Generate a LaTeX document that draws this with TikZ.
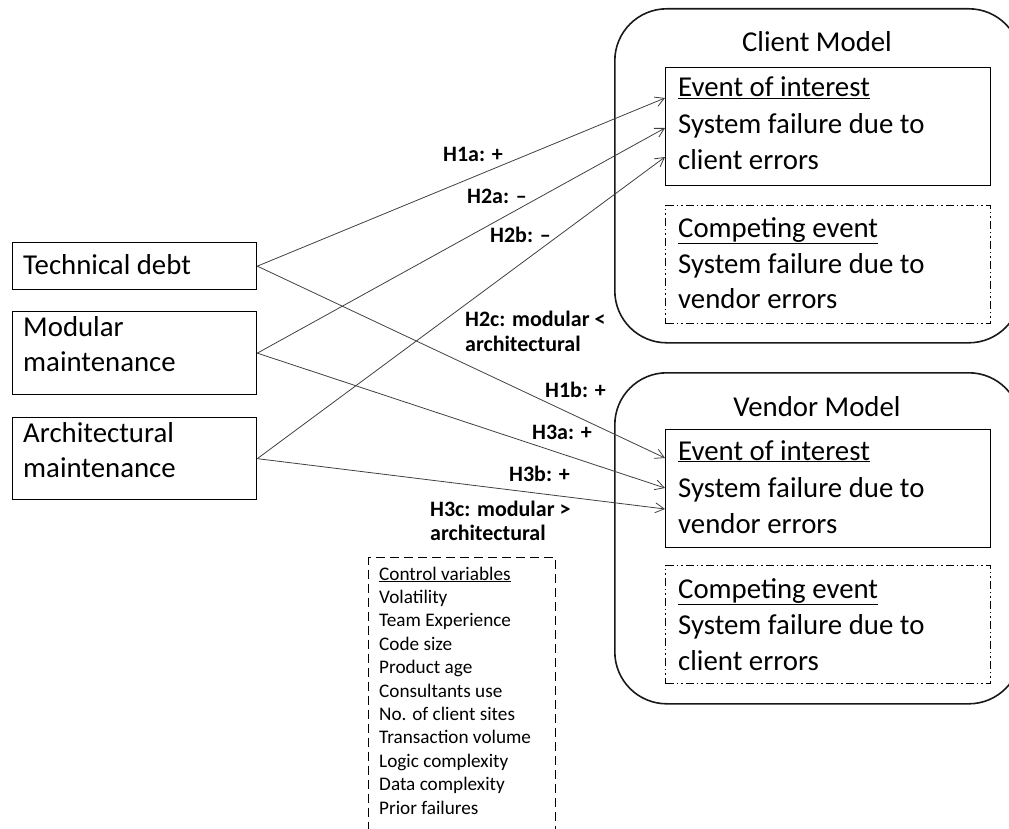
\documentclass[tikz,border=0pt]{standalone}
\usepackage{fontspec}
\setmainfont{Carlito}
\usetikzlibrary{arrows.meta,calc}
\begin{document}
\begin{tikzpicture}[x=1pt,y=-1pt,
  model/.style={draw=black!90, line width=1.6pt, rounded corners=52pt, inner sep=0, anchor=north west},
  box/.style={draw=black, line width=1.3pt, inner sep=0, anchor=north west},
  compbox/.style={box, line width=1.1pt, dash pattern=on 8pt off 3pt on 1.5pt off 3pt on 1.5pt off 3pt},
  ctrlbox/.style={box, line width=1.1pt, dash pattern=on 9pt off 5pt},
  big/.style={font=\fontsize{28.8}{34}\selectfont, inner sep=0, anchor=base west},
  title/.style={font=\fontsize{28.8}{34}\selectfont, inner sep=0, anchor=base},
  hyp/.style={font=\fontsize{22}{25}\selectfont\bfseries, inner sep=0, anchor=base west},
  small/.style={font=\fontsize{19.2}{23}\selectfont, inner sep=0, anchor=base west},
  arr/.style={draw=black!75, line width=0.8pt, -{Straight Barb[length=9pt,width=10pt]}}
]
\useasboundingbox (0,0) rectangle (1009,829);
\clip (0,0) rectangle (1009,829);

% models
\node[model, minimum width=406pt, minimum height=334pt] (cm) at (614,8) {};
\node[model, minimum width=406pt, minimum height=331pt] (vm) at (614,372) {};
\node[title] (cmt) at (817,52) {Client Model};
\node[title] (vmt) at (817,416) {Vendor Model};

% event boxes
\node[box, minimum width=325pt, minimum height=118pt] (cei) at (665,67) {};
\node[big] (cei1) at (678,97) {\underline{Event of interest}};
\node[big] (cei2) at (678,134) {System failure due to};
\node[big] (cei3) at (678,170) {client errors};

\node[compbox, minimum width=325pt, minimum height=118pt] (cce) at (665,205) {};
\node[big] (cce1) at (678,237) {\underline{Competing event}};
\node[big] (cce2) at (678,273) {System failure due to};
\node[big] (cce3) at (678,308) {vendor errors};

\node[box, minimum width=325pt, minimum height=118pt] (vei) at (665,429) {};
\node[big] (vei1) at (678,460) {\underline{Event of interest}};
\node[big] (vei2) at (678,497) {System failure due to};
\node[big] (vei3) at (678,533) {vendor errors};

\node[compbox, minimum width=325pt, minimum height=118pt] (vce) at (665,565) {};
\node[big] (vce1) at (678,598) {\underline{Competing event}};
\node[big] (vce2) at (678,634) {System failure due to};
\node[big] (vce3) at (678,670) {client errors};

% left boxes
\node[box, minimum width=244pt, minimum height=47pt] (td) at (12,242) {};
\node[big] (td1) at (23,274) {Technical debt};
\node[box, minimum width=244pt, minimum height=83pt] (mm) at (12,311) {};
\node[big] (mm1) at (23,336) {Modular};
\node[big] (mm2) at (23,371) {maintenance};
\node[box, minimum width=244pt, minimum height=82pt] (am) at (12,417) {};
\node[big] (am1) at (23,442) {Architectural};
\node[big] (am2) at (23,477) {maintenance};

% control variables
\node[ctrlbox, minimum width=187pt, minimum height=300pt] (cv) at (368,557) {};
\node[small] (cv0) at (379,580) {\underline{Control variables}};
\foreach \t [count=\i] in {Volatility,Team Experience,Code size,Product age,Consultants use,No. of client sites,Transaction volume,Logic complexity,Data complexity,Prior failures}
  \node[small] (cv\i) at (379,{580+23.4*\i}) {\t};

% arrows
\draw[arr] (td.east) -- ($(cei.north west)+(0,31)$);
\draw[arr] (mm.east) -- ($(cei.north west)+(0,61)$);
\draw[arr] (am.east) -- ($(cei.north west)+(0,90)$);
\draw[arr] (td.east) -- ($(vei.north west)+(0,29)$);
\draw[arr] (mm.east) -- ($(vei.north west)+(0,59)$);
\draw[arr] (am.east) -- ($(vei.north west)+(0,80)$);

% hypothesis labels
\node[hyp] (h1a) at (443,162) {H1a: +};
\node[hyp] (h2a) at (467,204) {H2a: --};
\node[hyp] (h2b) at (490,242) {H2b: --};
\node[hyp] (h2c1) at (465,326) {H2c: modular <};
\node[hyp] (h2c2) at (465,351) {architectural};
\node[hyp] (h1b) at (545,397) {H1b: +};
\node[hyp] (h3a) at (532,439) {H3a: +};
\node[hyp] (h3b) at (509,481) {H3b: +};
\node[hyp] (h3c1) at (430,516) {H3c: modular >};
\node[hyp] (h3c2) at (430,540) {architectural};
\end{tikzpicture}
\end{document}
